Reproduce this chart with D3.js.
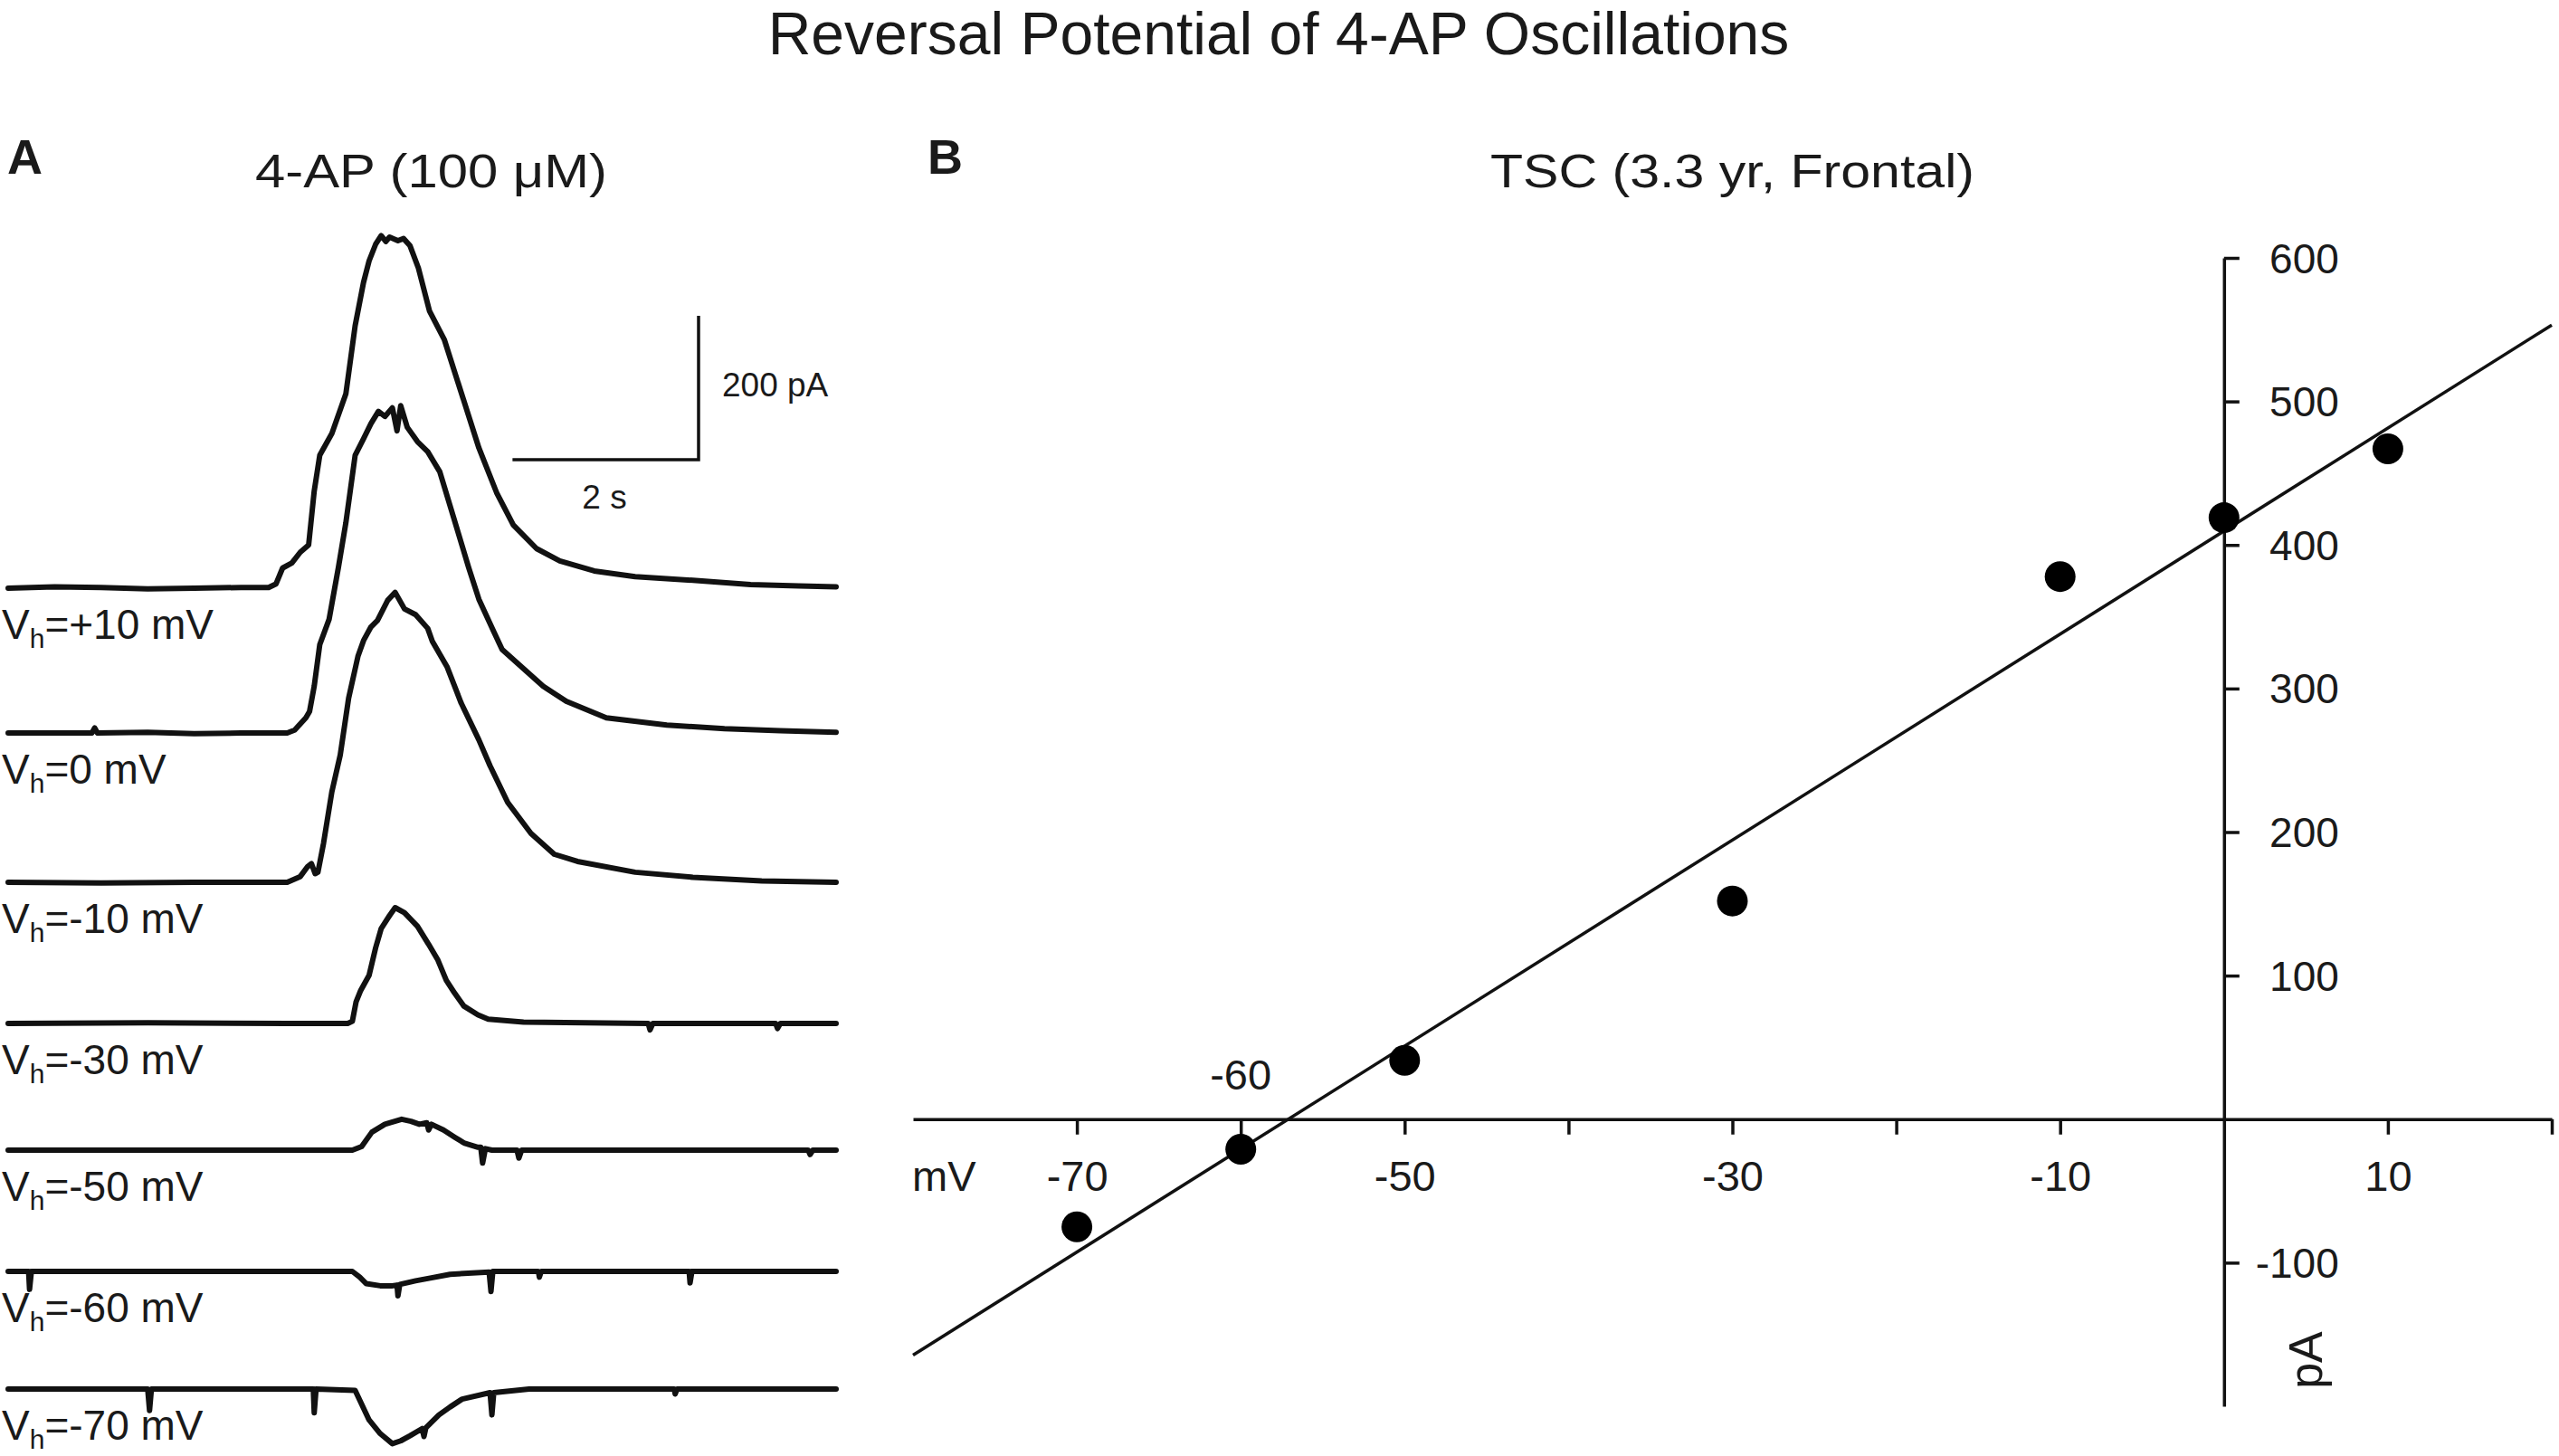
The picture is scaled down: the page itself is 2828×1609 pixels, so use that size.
<!DOCTYPE html>
<html>
<head>
<meta charset="utf-8">
<script src="https://cdn.jsdelivr.net/npm/d3@7"></script>
<style>
  html, body { margin: 0; padding: 0; background: #fff; }
  svg { display: block; }
  text { font-family: "Liberation Sans", Arial, Helvetica, sans-serif; fill: #1a1a1a; }
</style>
</head>
<body>
<script>
// ---------------- DATA ----------------
// Panel B: I-V relation
const holdingMV = [-70, -60, -50, -30, -10, 0, 10];
const peakPA    = [-75, -21, 41, 152, 378, 419, 467];
const xTickValues = [-70, -60, -50, -40, -30, -20, -10, 10, 20];
const xTickLabelsBelow = [-70, -50, -30, -10, 10];
const xTickLabelsAbove = [-60];
const yTickValues = [-100, 100, 200, 300, 400, 500, 600];

// Panel A: current traces, [time (s), current relative to baseline (pA)]
const vhLabels = ["+10", "0", "-10", "-30", "-50", "-60", "-70"];
const trace10 = [[0,0],[0.5,2],[1.0,1],[1.5,-1],[2.0,0],[2.5,1],[2.8,1],[2.88,6],[2.95,28],[3.05,35],[3.14,50],[3.23,60],[3.29,135],[3.35,185],[3.48,215],[3.63,270],[3.73,365],[3.82,425],[3.88,455],[3.95,478],[4.01,490],[4.06,482],[4.1,488],[4.19,483],[4.25,486],[4.32,476],[4.41,445],[4.53,385],[4.69,345],[4.87,272],[5.06,195],[5.25,133],[5.43,88],[5.68,55],[5.93,38],[6.3,24],[6.74,16],[7.36,11],[7.98,5],[8.5,3],[8.9,2]];
const trace0 = [[0,0],[0.9,0],[0.93,7],[0.96,0],[1.5,1],[2.0,-1],[2.5,0],[3.0,0],[3.08,4],[3.2,21],[3.24,30],[3.29,65],[3.35,123],[3.45,158],[3.55,230],[3.63,292],[3.73,386],[3.82,409],[3.9,430],[3.98,447],[4.05,440],[4.13,452],[4.18,420],[4.22,455],[4.29,425],[4.4,405],[4.51,391],[4.64,363],[4.82,286],[4.95,230],[5.06,186],[5.22,141],[5.31,116],[5.5,94],[5.75,65],[6.0,44],[6.43,21],[7.08,11],[7.7,6],[8.3,3],[8.9,1]];
const traceM10 = [[0,0],[1.0,-1],[2.0,0],[3.0,0],[3.14,8],[3.22,22],[3.26,26],[3.3,12],[3.33,14],[3.39,54],[3.48,126],[3.57,177],[3.66,256],[3.76,314],[3.82,336],[3.9,355],[3.97,364],[4.08,392],[4.16,403],[4.26,380],[4.38,372],[4.51,353],[4.56,335],[4.72,299],[4.87,249],[5.06,198],[5.18,162],[5.37,111],[5.62,68],[5.87,39],[6.12,29],[6.74,14],[7.36,7],[8.1,2],[8.9,0]];
const traceM30 = [[0,0],[1.5,1],[3.0,0],[3.65,0],[3.7,3],[3.74,30],[3.79,46],[3.88,67],[3.95,105],[4.01,132],[4.1,150],[4.16,161],[4.26,154],[4.4,135],[4.52,110],[4.62,88],[4.71,60],[4.8,42],[4.9,24],[5.05,12],[5.16,6],[5.54,2],[6.88,0],[6.9,-9],[6.93,0],[8.25,0],[8.27,-7],[8.3,0],[8.9,0]];
const traceM50 = [[0,0],[2.0,0],[3.7,0],[3.8,5],[3.91,25],[4.05,36],[4.23,43],[4.33,40],[4.42,36],[4.5,38],[4.52,28],[4.55,36],[4.68,28],[4.8,18],[4.9,10],[5.05,4],[5.08,4],[5.1,-18],[5.13,2],[5.2,0],[5.47,0],[5.49,-11],[5.52,0],[8.6,0],[8.62,-6],[8.65,0],[8.9,0]];
const traceM60 = [[0,0],[0.22,0],[0.23,-25],[0.25,0],[2.0,0],[3.7,0],[3.78,-8],[3.85,-17],[4.0,-20],[4.13,-20],[4.18,-19],[4.19,-34],[4.21,-18],[4.38,-13],[4.55,-9],[4.75,-4],[5.17,-1],[5.19,-28],[5.21,0],[5.7,0],[5.71,-8],[5.73,0],[7.32,0],[7.33,-16],[7.35,0],[8.9,0]];
const traceM70 = [[0,0],[1.5,0],[1.52,-30],[1.54,0],[3.28,0],[3.29,-33],[3.31,0],[3.73,-2],[3.88,-43],[4.0,-62],[4.13,-76],[4.22,-72],[4.32,-65],[4.45,-55],[4.47,-66],[4.49,-54],[4.63,-36],[4.75,-25],[4.88,-14],[5.18,-5],[5.2,-36],[5.22,-5],[5.6,0],[7.16,0],[7.17,-7],[7.19,0],[8.9,0]];
const traces = [trace10, trace0, traceM10, traceM30, traceM50, traceM60, traceM70];

// ---------------- LAYOUT ----------------
const W = 2828, H = 1609;
const traceBaselineY = [650, 810, 975, 1131, 1271, 1405, 1535];

const svg = d3.select("body").append("svg")
  .attr("width", W).attr("height", H).attr("viewBox", `0 0 ${W} ${H}`);
svg.append("rect").attr("width", W).attr("height", H).attr("fill", "#fff");

// Main title
svg.append("text").attr("x", 1413).attr("y", 60).attr("text-anchor", "middle")
  .attr("font-size", 66).text("Reversal Potential of 4-AP Oscillations");

// Panel letters
svg.append("text").attr("x", 8).attr("y", 192).attr("font-size", 54).attr("font-weight", "bold").text("A");
svg.append("text").attr("x", 1025).attr("y", 192).attr("font-size", 54).attr("font-weight", "bold").text("B");

// Panel subtitles
svg.append("text").attr("x", 282).attr("y", 207).attr("font-size", 52)
  .attr("textLength", 389).attr("lengthAdjust", "spacingAndGlyphs").text("4-AP (100 μM)");
svg.append("text").attr("x", 1647).attr("y", 207).attr("font-size", 52)
  .attr("textLength", 535).attr("lengthAdjust", "spacingAndGlyphs").text("TSC (3.3 yr, Frontal)");

// ---------------- PANEL A ----------------
const xA = d3.scaleLinear().domain([0, 8.9]).range([9, 924]);
const yA = d3.scaleLinear().domain([0, 200]).range([0, -159]);
const lineA = d3.line().x(d => xA(d[0])).y(d => yA(d[1]));

const gA = svg.append("g");
traces.forEach((tr, i) => {
  const g = gA.append("g").attr("transform", `translate(0,${traceBaselineY[i]})`);
  g.append("path").datum(tr).attr("d", lineA)
    .attr("fill", "none").attr("stroke", "#111").attr("stroke-width", 6)
    .attr("stroke-linejoin", "round").attr("stroke-linecap", "round");
  const t = g.append("text").attr("x", 2).attr("y", 56).attr("font-size", 46);
  t.append("tspan").text("V");
  t.append("tspan").attr("font-size", 30).attr("dy", 10).text("h");
  t.append("tspan").attr("font-size", 46).attr("dy", -10).text("=" + vhLabels[i] + " mV");
});

// Scale bar (2 s, 200 pA)
const sbX = 772, sbY = 508;
const sbW = xA(2) - xA(0), sbH = -yA(200);
svg.append("path")
  .attr("d", `M${sbX - sbW},${sbY} L${sbX},${sbY} L${sbX},${sbY - sbH}`)
  .attr("fill", "none").attr("stroke", "#111").attr("stroke-width", 3.5);
svg.append("text").attr("x", 798).attr("y", 438).attr("font-size", 37).text("200 pA");
svg.append("text").attr("x", 668).attr("y", 562).attr("font-size", 37).attr("text-anchor", "middle").text("2 s");

// ---------------- PANEL B ----------------
const xB = d3.scaleLinear().domain([-80, 20]).range([1009, 2820]);
const yB = d3.scaleLinear().domain([-200, 600]).range([1554, 285]);

// x axis at y=0
const xAxis = d3.axisBottom(xB).tickValues(xTickValues).tickSize(17).tickSizeOuter(0)
  .tickFormat(d => xTickLabelsBelow.includes(d) ? String(d) : "");
const gx = svg.append("g").attr("transform", `translate(0,${yB(0)})`).call(xAxis);
gx.select(".domain").attr("stroke", "#111").attr("stroke-width", 3.5);
gx.selectAll(".tick line").attr("stroke", "#111").attr("stroke-width", 3.5);
gx.selectAll(".tick text").attr("y", 79).attr("dy", 0).attr("font-size", 47)
  .attr("font-family", "Liberation Sans, Arial, sans-serif").attr("fill", "#1a1a1a");
xTickLabelsAbove.forEach(v => {
  svg.append("text").attr("x", xB(v)).attr("y", yB(0) - 33).attr("text-anchor", "middle")
    .attr("font-size", 47).text(String(v));
});
svg.append("text").attr("x", 1008).attr("y", yB(0) + 79).attr("font-size", 47).text("mV");

// y axis at x=0
const yAxis = d3.axisRight(yB).tickValues(yTickValues).tickSize(17).tickSizeOuter(0)
  .tickFormat(d => String(d));
const gy = svg.append("g").attr("transform", `translate(${xB(0)},0)`).call(yAxis);
gy.select(".domain").attr("stroke", "#111").attr("stroke-width", 3.5);
gy.selectAll(".tick line").attr("stroke", "#111").attr("stroke-width", 3.5);
gy.selectAll(".tick text").attr("x", 127).attr("dy", "0.35em").attr("text-anchor", "end")
  .attr("font-size", 46).attr("font-family", "Liberation Sans, Arial, sans-serif").attr("fill", "#1a1a1a");
svg.append("text").attr("transform", `translate(${xB(0) + 90},${1503}) rotate(-90)`)
  .attr("text-anchor", "middle").attr("font-size", 52).attr("dy", "0.35em").text("pA");

// Linear regression fit through the data
const n = holdingMV.length;
const mx = d3.mean(holdingMV), my = d3.mean(peakPA);
let sxy = 0, sxx = 0;
for (let i = 0; i < n; i++) { sxy += (holdingMV[i] - mx) * (peakPA[i] - my); sxx += (holdingMV[i] - mx) ** 2; }
const slope = sxy / sxx, intercept = my - slope * mx;
const fitX = xB.domain();
svg.append("line")
  .attr("x1", xB(fitX[0])).attr("y1", yB(intercept + slope * fitX[0]))
  .attr("x2", xB(fitX[1])).attr("y2", yB(intercept + slope * fitX[1]))
  .attr("stroke", "#111").attr("stroke-width", 3.5);

// Points
svg.append("g").selectAll("circle").data(holdingMV.map((v, i) => [v, peakPA[i]]))
  .join("circle").attr("cx", d => xB(d[0])).attr("cy", d => yB(d[1])).attr("r", 17).attr("fill", "#000");
</script>
</body>
</html>
